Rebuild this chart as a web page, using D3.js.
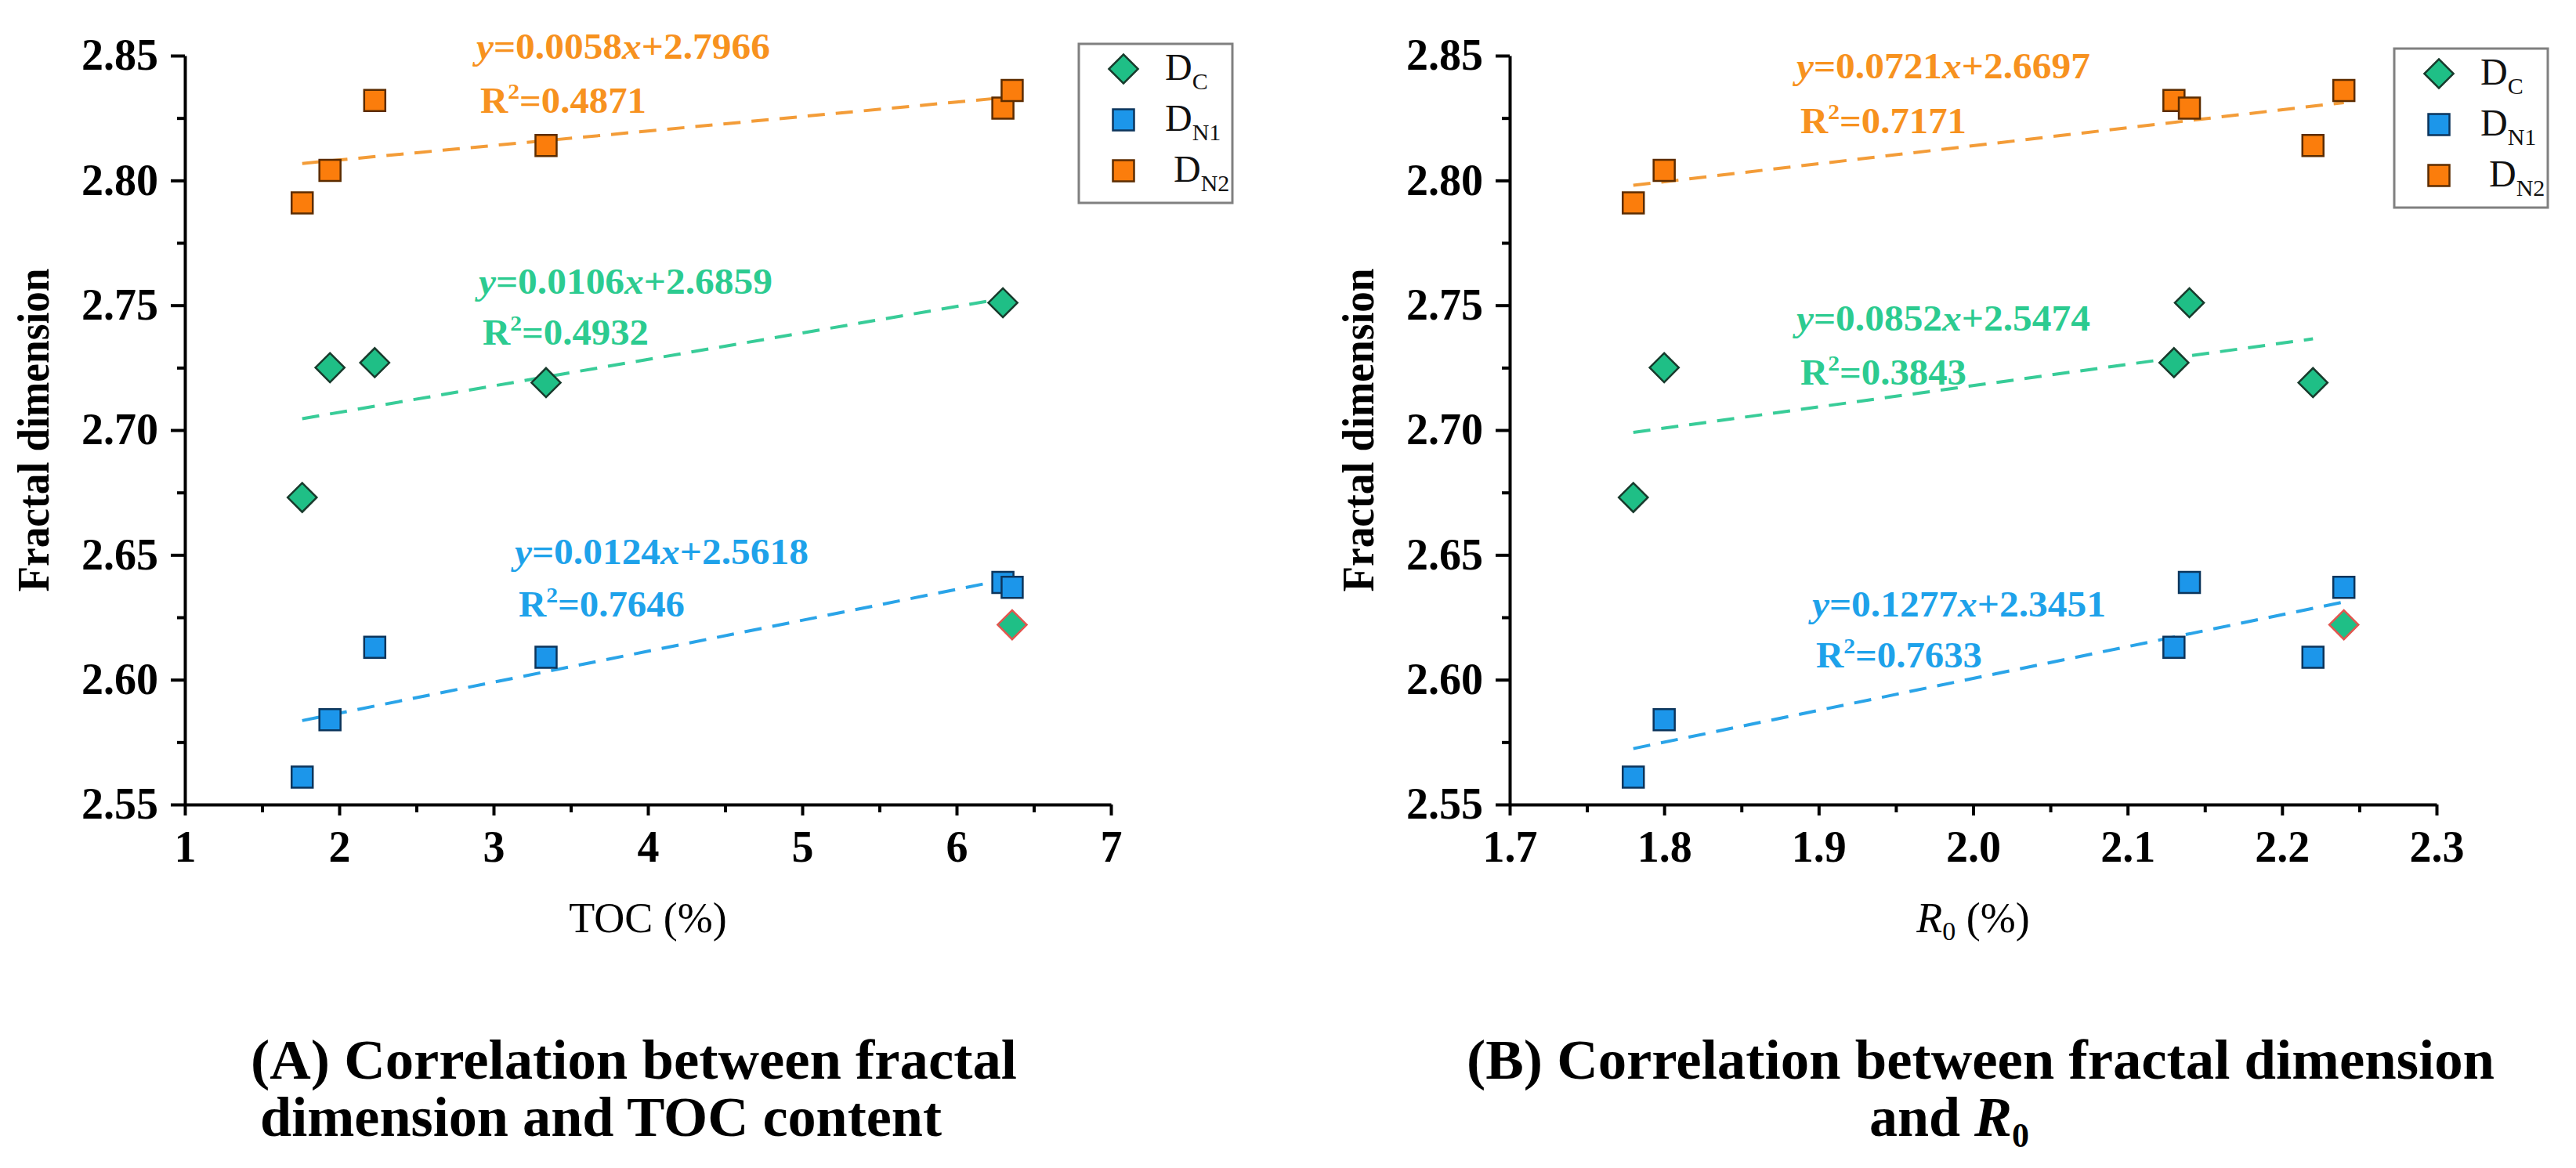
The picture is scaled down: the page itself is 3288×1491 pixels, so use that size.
<!DOCTYPE html>
<html>
<head>
<meta charset="utf-8">
<script src="https://cdn.jsdelivr.net/npm/d3@7"></script>
<style>
  body { margin: 0; background: #fff; }
  text { font-family: "Liberation Serif", "Times New Roman", serif; }
</style>
</head>
<body>
<div id="chart"></div>
<script>
let svgWidth = 3288;
let svgHeight = 1491;

// six samples, same order in every array
let toc = [1.76, 1.94, 2.23, 3.34, 6.30, 6.36];
let ro = [1.78, 1.80, 2.13, 2.22, 2.14, 2.24];
let dc = [2.673, 2.725, 2.727, 2.719, 2.751, 2.622];
let dn1 = [2.561, 2.584, 2.613, 2.609, 2.639, 2.637];
let dn2 = [2.791, 2.804, 2.832, 2.814, 2.829, 2.836];
let dcExcluded = [false, false, false, false, false, true]; // left out of the Dc fit

let seriesNames = ["C", "N1", "N2"];

// linear fits: order Dc, DN1, DN2
let tocSlope = [0.0106, 0.0124, 0.0058];
let tocIntercept = [2.6859, 2.5618, 2.7966];
let tocR2 = ["0.4932", "0.7646", "0.4871"];
let roSlope = [0.0852, 0.1277, 0.0721];
let roIntercept = [2.5474, 2.3451, 2.6697];
let roR2 = ["0.3843", "0.7633", "0.7171"];

let yTicks = [2.55, 2.60, 2.65, 2.70, 2.75, 2.80, 2.85];
let tocTicks = [1, 2, 3, 4, 5, 6, 7];
let roTicks = [1.7, 1.8, 1.9, 2.0, 2.1, 2.2, 2.3];

let fills = ["#1fbf86", "#1c96ea", "#fb7d0c"];
let strokes = ["#183a2c", "#0c355c", "#5c2c00"];
let textColors = ["#2ccb90", "#1ea2ea", "#f7921f"];
let dashColors = ["#38cc98", "#2aa4e8", "#f39c38"];

let ys = [dc, dn1, dn2];

let panels = [
  {
    xv: toc, ticks: tocTicks, fmt: d3.format("d"),
    slope: tocSlope, icpt: tocIntercept, r2: tocR2,
    left: 236, right: 1418,
    eq: [[611, 375, 440], [657, 720, 787], [608, 75, 144]],
    legend: [1377, 56]
  },
  {
    xv: ro, ticks: roTicks, fmt: d3.format(".1f"),
    slope: roSlope, icpt: roIntercept, r2: roR2,
    left: 1927, right: 3110,
    eq: [[2293, 422, 491], [2313, 787, 852], [2293, 100, 170]],
    legend: [3056, 62]
  }
];

let plotTop = 71, plotBottom = 1027;

let svg = d3.select("#chart")
  .append("svg")
  .attr("width", svgWidth)
  .attr("height", svgHeight);

svg.append("rect").attr("width", svgWidth).attr("height", svgHeight).attr("fill", "#fff");

let diamond = d3.symbol().type(d3.symbolSquare).size(690);
let square = d3.symbol().type(d3.symbolSquare).size(729);

function styleAxis(g) {
  g.selectAll("path, line").attr("stroke", "#000").attr("stroke-width", 4);
  g.selectAll("text")
    .attr("font-family", "Liberation Serif, serif")
    .attr("font-weight", "bold")
    .attr("font-size", 56)
    .attr("fill", "#000");
}

panels.forEach(function(p, pi) {
  let x = d3.scaleLinear().domain(d3.extent(p.ticks)).range([p.left, p.right]);
  let y = d3.scaleLinear().domain([2.55, 2.85]).range([plotBottom, plotTop]);

  let g = svg.append("g");

  // minor ticks
  let yMinor = d3.pairs(yTicks).map(d => (d[0] + d[1]) / 2);
  let xMinor = d3.pairs(p.ticks).map(d => (d[0] + d[1]) / 2);

  g.append("g")
    .attr("transform", `translate(${p.left},0)`)
    .call(d3.axisLeft(y).tickValues(yMinor).tickSize(10).tickFormat(""))
    .call(a => a.select(".domain").remove())
    .call(styleAxis);

  g.append("g")
    .attr("transform", `translate(0,${plotBottom})`)
    .call(d3.axisBottom(x).tickValues(xMinor).tickSize(10).tickFormat(""))
    .call(a => a.select(".domain").remove())
    .call(styleAxis);

  g.append("g")
    .attr("transform", `translate(${p.left},0)`)
    .call(d3.axisLeft(y).tickValues(yTicks).tickFormat(d3.format(".2f")).tickSize(18).tickSizeOuter(0).tickPadding(16))
    .call(styleAxis);

  g.append("g")
    .attr("transform", `translate(0,${plotBottom})`)
    .call(d3.axisBottom(x).tickValues(p.ticks).tickFormat(p.fmt).tickSize(14).tickSizeOuter(0).tickPadding(19))
    .call(styleAxis);

  // fit lines
  ys.forEach(function(s, si) {
    let xs = p.xv.filter((d, i) => !(si === 0 && dcExcluded[i]));
    let x0 = d3.min(xs), x1 = d3.max(xs);
    g.append("line")
      .attr("x1", x(x0)).attr("y1", y(p.slope[si] * x0 + p.icpt[si]))
      .attr("x2", x(x1)).attr("y2", y(p.slope[si] * x1 + p.icpt[si]))
      .attr("stroke", dashColors[si])
      .attr("stroke-width", 4)
      .attr("stroke-dasharray", "22 14");
  });

  // points: DN2, DN1 squares, then Dc diamonds
  [2, 1].forEach(function(si) {
    g.append("g").selectAll("path")
      .data(p.xv.map((d, i) => [d, ys[si][i]]))
      .enter()
      .append("path")
      .attr("d", square)
      .attr("transform", d => `translate(${x(d[0])},${y(d[1])})`)
      .attr("fill", fills[si])
      .attr("stroke", strokes[si])
      .attr("stroke-width", 2.5);
  });

  g.append("g").selectAll("path")
    .data(p.xv.map((d, i) => [d, dc[i], dcExcluded[i]]))
    .enter()
    .append("path")
    .attr("d", diamond)
    .attr("transform", d => `translate(${x(d[0])},${y(d[1])}) rotate(45)`)
    .attr("fill", fills[0])
    .attr("stroke", d => d[2] ? "#e2564f" : strokes[0])
    .attr("stroke-width", 2.5);

  // equations
  ys.forEach(function(s, si) {
    let pos = p.eq[si];
    let t = g.append("text")
      .attr("x", pos[0]).attr("y", pos[1])
      .attr("font-size", 46).attr("font-weight", "bold")
      .attr("fill", textColors[si])
      .attr("textLength", 375).attr("lengthAdjust", "spacingAndGlyphs");
    t.append("tspan").attr("font-style", "italic").text("y");
    t.append("tspan").text("=" + p.slope[si].toFixed(4));
    t.append("tspan").attr("font-style", "italic").text("x");
    t.append("tspan").text("+" + p.icpt[si].toFixed(4));

    let r = g.append("text")
      .attr("x", pos[0] + 5).attr("y", pos[2])
      .attr("font-size", 46).attr("font-weight", "bold")
      .attr("fill", textColors[si])
      .attr("textLength", 212).attr("lengthAdjust", "spacingAndGlyphs");
    r.append("tspan").text("R");
    r.append("tspan").attr("font-size", 28).attr("dy", -18).text("2");
    r.append("tspan").attr("dy", 18).text("=" + p.r2[si]);
  });

  // legend
  let lg = g.append("g").attr("transform", `translate(${p.legend[0]},${p.legend[1]})`);
  lg.append("rect")
    .attr("width", 196).attr("height", 203)
    .attr("fill", "#fff").attr("stroke", "#808080").attr("stroke-width", 3);
  seriesNames.forEach(function(name, si) {
    let cy = 32 + si * 65;
    lg.append("path")
      .attr("d", si === 0 ? diamond : square)
      .attr("transform", `translate(57,${cy})` + (si === 0 ? " rotate(45)" : ""))
      .attr("fill", fills[si])
      .attr("stroke", strokes[si])
      .attr("stroke-width", 2.5);
    let lt = lg.append("text")
      .attr("x", si === 2 ? 121 : 110).attr("y", cy + 14)
      .attr("font-size", 48).attr("fill", "#111");
    lt.append("tspan").text("D");
    lt.append("tspan").attr("font-size", 30).attr("dy", 12).text(name);
  });

  // y label
  g.append("text")
    .attr("transform", `translate(${p.left - 174},${(plotTop + plotBottom) / 2}) rotate(-90)`)
    .attr("text-anchor", "middle")
    .attr("font-size", 56).attr("font-weight", "bold")
    .attr("textLength", 413).attr("lengthAdjust", "spacingAndGlyphs")
    .text("Fractal dimension");

  // x label
  let xl = g.append("text")
    .attr("x", (p.left + p.right) / 2).attr("y", 1190)
    .attr("text-anchor", "middle")
    .attr("font-size", 54);
  if (pi === 0) {
    xl.text("TOC (%)");
  } else {
    xl.append("tspan").attr("font-style", "italic").text("R");
    xl.append("tspan").attr("font-size", 34).attr("dy", 10).text("0");
    xl.append("tspan").attr("dy", -10).text(" (%)");
  }
});

// captions
svg.append("text")
  .attr("x", 320).attr("y", 1377)
  .attr("font-size", 72).attr("font-weight", "bold")
  .attr("textLength", 978).attr("lengthAdjust", "spacingAndGlyphs")
  .text("(A) Correlation between fractal");
svg.append("text")
  .attr("x", 332).attr("y", 1450)
  .attr("font-size", 72).attr("font-weight", "bold")
  .attr("textLength", 870).attr("lengthAdjust", "spacingAndGlyphs")
  .text("dimension and TOC content");

svg.append("text")
  .attr("x", 2528).attr("y", 1377)
  .attr("text-anchor", "middle")
  .attr("font-size", 72).attr("font-weight", "bold")
  .attr("textLength", 1312).attr("lengthAdjust", "spacingAndGlyphs")
  .text("(B) Correlation between fractal dimension");

let cb = svg.append("text")
  .attr("x", 2488).attr("y", 1450)
  .attr("text-anchor", "middle")
  .attr("font-size", 72).attr("font-weight", "bold");
cb.append("tspan").text("and ");
cb.append("tspan").attr("font-style", "italic").text("R");
cb.append("tspan").attr("font-size", 44).attr("dy", 14).text("0");
</script>
</body>
</html>
